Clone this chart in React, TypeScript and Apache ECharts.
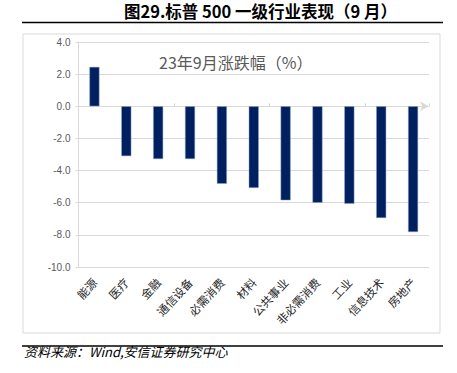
import React, { useEffect, useRef } from "react";
import * as echarts from "echarts";

const categories = ["能源", "医疗", "金融", "通信设备", "必需消费", "材料", "公共事业", "非必需消费", "工业", "信息技术", "房地产"];
const values = [2.45, -3.1, -3.28, -3.28, -4.82, -5.08, -5.85, -6.0, -6.06, -6.95, -7.82];
const yTicks = { min: -10, max: 4, interval: 2 };
const titleText = "图29.标普 500 一级行业表现（9 月）";
const subTitleText = "23年9月涨跌幅（%）";
const sourceText = "资料来源：Wind,安信证券研究中心";

const FONT = "'Noto Sans CJK SC', 'Noto Sans', sans-serif";

export default function App() {
  const ref = useRef<HTMLDivElement>(null);
  useEffect(() => {
    if (!ref.current) return;
    const chart = echarts.init(ref.current, undefined, { renderer: "svg" });
    chart.setOption({
      animation: false,
      backgroundColor: "#ffffff",
      textStyle: { fontFamily: FONT },
      grid: { left: 78.5, right: 28, top: 42, bottom: 106, containLabel: false },
      title: {
        text: subTitleText,
        left: 154,
        top: 49,
        textStyle: { fontSize: 16, fontWeight: "normal", color: "#595959", fontFamily: FONT },
      },
      graphic: [
        {
          type: "text",
          left: 124,
          top: 3,
          style: { text: titleText, fontSize: 16.5, fontWeight: "bold", fill: "#000", fontFamily: FONT },
        },
        {
          type: "line",
          shape: { x1: 22, y1: 22.5, x2: 443, y2: 22.5 },
          style: { stroke: "#000", lineWidth: 1.5 },
        },
        {
          type: "rect",
          shape: { x: 23, y: 34, width: 417, height: 299 },
          style: { fill: "none", stroke: "#d9d9d9", lineWidth: 1 },
        },
        {
          type: "line",
          shape: { x1: 22, y1: 346, x2: 443, y2: 346 },
          style: { stroke: "#000", lineWidth: 1.5 },
        },
        {
          type: "text",
          left: 24,
          top: 345,
          style: { text: sourceText, fontSize: 13, fontStyle: "italic", fill: "#000", fontFamily: FONT },
        },
      ],
      xAxis: [
        {
          type: "category",
          data: categories,
          axisLine: {
            show: true,
            onZero: true,
            lineStyle: { color: "#d9d9d9", width: 1 },
            symbol: ["none", "arrow"],
            symbolSize: [7, 9],
          },
          axisTick: { show: true, inside: true, length: 3, lineStyle: { color: "#d9d9d9" } },
          axisLabel: { show: false },
          splitLine: { show: false },
        },
        {
          type: "category",
          data: categories,
          position: "bottom",
          axisLine: { show: false, onZero: false },
          axisTick: { show: false },
          axisLabel: { rotate: 47, fontSize: 11.5, color: "#262626", margin: 13, interval: 0, fontFamily: FONT },
          splitLine: { show: false },
        },
      ],
      yAxis: {
        type: "value",
        min: yTicks.min,
        max: yTicks.max,
        interval: yTicks.interval,
        axisLine: { show: true, lineStyle: { color: "#d9d9d9" } },
        axisTick: { show: true, length: 3, lineStyle: { color: "#d9d9d9" } },
        axisLabel: {
          fontSize: 10,
          color: "#595959",
          margin: 8,
          formatter: (v: number) => v.toFixed(1),
          fontFamily: "'Liberation Sans', sans-serif",
        },
        splitLine: { show: true, lineStyle: { color: "#d9d9d9", width: 1 } },
      },
      series: [
        {
          type: "bar",
          xAxisIndex: 0,
          data: values,
          barWidth: 10,
          itemStyle: { color: "#002060", borderColor: "#8ea0c6", borderWidth: 0.5 },
        },
      ],
    });
    return () => chart.dispose();
  }, []);
  return <div ref={ref} style={{ position: "absolute", left: 0, top: 0, width: 457, height: 373 }} />;
}
